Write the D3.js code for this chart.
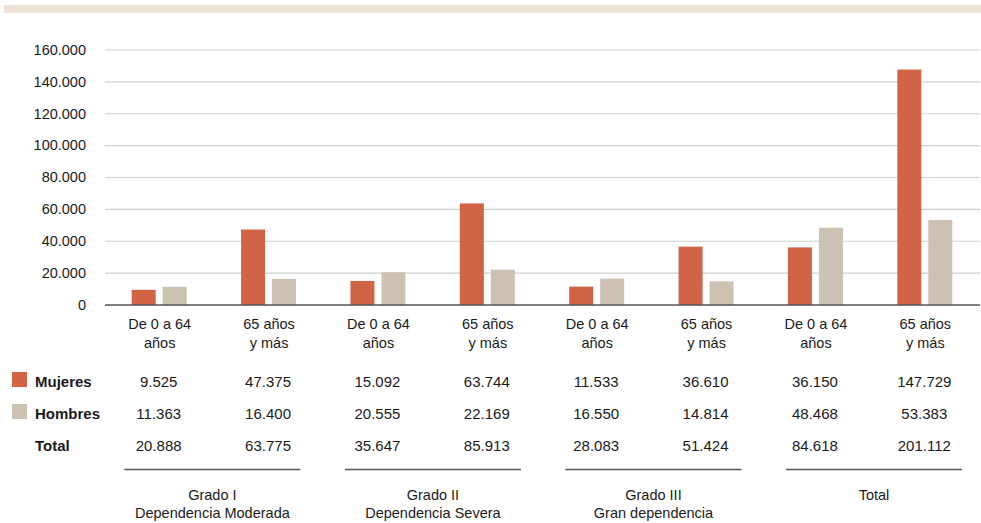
<!DOCTYPE html>
<html>
<head>
<meta charset="utf-8">
<script src="https://cdn.jsdelivr.net/npm/d3@7"></script>
<style>
  body { margin: 0; background: #fff; }
  text { font-family: "Liberation Sans", Arial, sans-serif; fill: #1a1a1a; }
</style>
</head>
<body>
<div id="chart"></div>
<script>
// data
var categories = [["De 0 a 64", "años"], ["65 años", "y más"], ["De 0 a 64", "años"], ["65 años", "y más"],
                  ["De 0 a 64", "años"], ["65 años", "y más"], ["De 0 a 64", "años"], ["65 años", "y más"]];
var mujeres = [9525, 47375, 15092, 63744, 11533, 36610, 36150, 147729];
var hombres = [11363, 16400, 20555, 22169, 16550, 14814, 48468, 53383];
var totales = [20888, 63775, 35647, 85913, 28083, 51424, 84618, 201112];
var grupos = [["Grado I", "Dependencia Moderada"], ["Grado II", "Dependencia Severa"],
              ["Grado III", "Gran dependencia"], ["Total"]];
var yTicks = [0, 20000, 40000, 60000, 80000, 100000, 120000, 140000, 160000];

var width = 981, height = 523;
var colors = {Mujeres: "#d06445", Hombres: "#cdc1b1"};

var svg = d3.select("#chart")
  .append("svg")
    .attr("width", width)
    .attr("height", height);

// top band
svg.append("rect")
  .attr("x", 4).attr("y", 5)
  .attr("width", width - 4).attr("height", 8)
  .attr("fill", "#f0e3d6");

var x = d3.scaleBand()
  .domain(d3.range(categories.length))
  .range([105, 980]);

var xInner = d3.scaleBand()
  .domain(["Mujeres", "Hombres"])
  .range([-28, 27])
  .paddingInner(7 / 31);

var y = d3.scaleLinear()
  .domain([0, 160000])
  .range([305, 50]);

var fmt = function(v) { return d3.format(",")(v).replace(/,/g, "."); };

// gridlines
svg.append("g")
  .selectAll("line")
  .data(yTicks.slice(1))
  .join("line")
    .attr("x1", 105).attr("x2", 980)
    .attr("y1", d => y(d)).attr("y2", d => y(d))
    .attr("stroke", "#d0d0d0")
    .attr("stroke-width", 1.2);

// y axis labels
svg.append("g")
  .selectAll("text")
  .data(yTicks)
  .join("text")
    .attr("x", 86)
    .attr("y", d => y(d))
    .attr("dy", "0.33em")
    .attr("text-anchor", "end")
    .attr("font-size", "14.5px")
    .text(d => fmt(d));

// bars
var series = [["Mujeres", mujeres], ["Hombres", hombres]];
series.forEach(function(s) {
  svg.append("g")
    .selectAll("rect")
    .data(s[1])
    .join("rect")
      .attr("x", (d, i) => x(i) + x.bandwidth() / 2 + xInner(s[0]))
      .attr("y", d => y(d))
      .attr("width", xInner.bandwidth())
      .attr("height", d => y(0) - y(d))
      .attr("fill", colors[s[0]]);
});

// axis line
svg.append("line")
  .attr("x1", 105).attr("x2", 980)
  .attr("y1", y(0)).attr("y2", y(0))
  .attr("stroke", "#555")
  .attr("stroke-width", 1.6);

// category labels
var cat = svg.append("g")
  .selectAll("text")
  .data(categories)
  .join("text")
    .attr("x", (d, i) => x(i) + x.bandwidth() / 2)
    .attr("text-anchor", "middle")
    .attr("font-size", "14.5px");
cat.append("tspan").attr("y", 329).attr("x", (d, i) => x(i) + x.bandwidth() / 2).text(d => d[0]);
cat.append("tspan").attr("y", 348).attr("x", (d, i) => x(i) + x.bandwidth() / 2).text(d => d[1]);

// table rows
var rows = [["Mujeres", mujeres, 387], ["Hombres", hombres, 419], ["Total", totales, 451]];
rows.forEach(function(r) {
  if (colors[r[0]]) {
    svg.append("rect")
      .attr("x", 12).attr("y", r[2] - 15)
      .attr("width", 15).attr("height", 15)
      .attr("fill", colors[r[0]]);
  }
  svg.append("text")
    .attr("x", 35).attr("y", r[2])
    .attr("font-size", "15px")
    .attr("font-weight", "bold")
    .text(r[0]);
  svg.append("g")
    .selectAll("text")
    .data(r[1])
    .join("text")
      .attr("x", (d, i) => x(i) + x.bandwidth() / 2 - 1)
      .attr("y", r[2])
      .attr("text-anchor", "middle")
      .attr("font-size", "15px")
      .text(d => fmt(d));
});

// group underline and labels
grupos.forEach(function(g, k) {
  var cx = x(k * 2) + x.bandwidth() - 2 + k * 1.8;
  svg.append("line")
    .attr("x1", cx - 88).attr("x2", cx + 88)
    .attr("y1", 469.5).attr("y2", 469.5)
    .attr("stroke", "#555")
    .attr("stroke-width", 1.5);
  g.forEach(function(line, j) {
    svg.append("text")
      .attr("x", cx)
      .attr("y", 500 + j * 18)
      .attr("text-anchor", "middle")
      .attr("font-size", "14.5px")
      .text(line);
  });
});
</script>
</body>
</html>
